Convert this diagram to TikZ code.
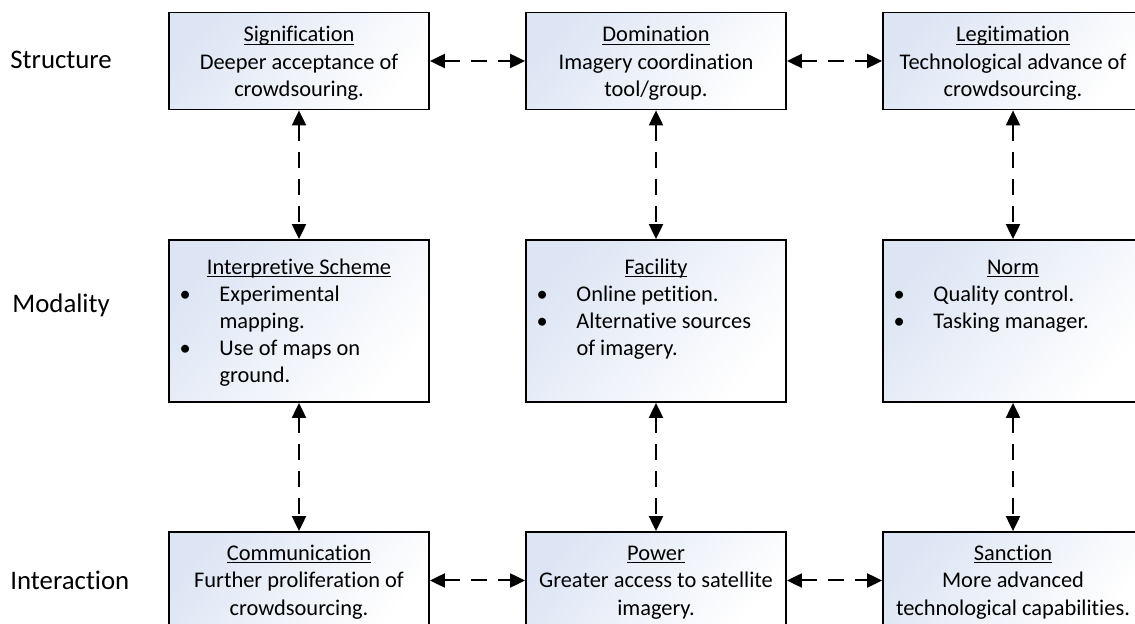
\documentclass[tikz,border=0pt]{standalone}
\usepackage{fontspec}
\setmainfont{Carlito}[Ligatures={NoCommon}]
\usetikzlibrary{arrows.meta,calc}
\definecolor{boxtop}{HTML}{DDE5F4}
\newcommand\uln[1]{\leavevmode\setbox0\hbox{#1}\rlap{\rule[-1.6pt]{\wd0}{0.55pt}}\box0}
\tikzset{
  box/.style={draw=black, line width=0.9pt, rectangle, minimum width=130pt, inner sep=0pt,
    top color=boxtop, bottom color=white, shading angle=50},
  shortbox/.style={box, minimum height=48.5pt},
  tallbox/.style={box, minimum height=81pt},
  btxt/.style={align=center, anchor=base, inner sep=0pt, font=\fontsize{11.2}{13.7}\selectfont},
  ltxt/.style={anchor=base west, inner sep=0pt, font=\fontsize{11.2}{13.6}\selectfont},
  rowlabel/.style={anchor=base west, inner sep=0pt, font=\fontsize{13.4}{16}\selectfont},
  link/.style={line width=1pt, dash pattern=on 8pt off 5.5pt,
    {Triangle[length=7.5pt,width=7pt]}-{Triangle[length=7.5pt,width=7pt]}},
}
\begin{document}
\begin{tikzpicture}[x=0.5pt,y=-0.5pt]
\useasboundingbox (0,0) rectangle (1135,624);
\clip (0,0) rectangle (1135,624);

% row labels
\node[rowlabel] (lstruct) at (10,69) {Structure};
\node[rowlabel] (lmodal) at (12,313) {Modality};
\node[rowlabel] (linter) at (10,589) {Interaction};

% boxes
\node[shortbox] (s1) at (299,61) {};
\node[shortbox] (s2) at (656,61) {};
\node[shortbox] (s3) at (1013,61) {};
\node[tallbox] (m1) at (299,321) {};
\node[tallbox] (m2) at (656,321) {};
\node[tallbox] (m3) at (1013,321) {};
\node[shortbox] (i1) at (299,580.5) {};
\node[shortbox] (i2) at (656,580.5) {};
\node[shortbox] (i3) at (1013,580.5) {};

% structure texts (anchor = baseline of last line)
\node[btxt] (ts1) at ($(s1.north)+(0,85)$) {\uln{Signification}\\Deeper acceptance of\\crowdsouring.};
\node[btxt] (ts2) at ($(s2.north)+(0,85)$) {\uln{Domination}\\Imagery coordination\\tool/group.};
\node[btxt] (ts3) at ($(s3.north)+(0,85)$) {\uln{Legitimation}\\Technological advance of\\crowdsourcing.};

% modality texts
\node[btxt] (tm1) at ($(m1.north)+(0,35)$) {\uln{Interpretive Scheme}};
\node[ltxt] (lm1) at ($(m1.north west)+(11,62)$) {\begin{tabular}[t]{@{}p{20pt}@{}l@{}}
\textbullet & Experimental\\ & mapping.\\ \textbullet & Use of maps on\\ & ground.\end{tabular}};
\node[btxt] (tm2) at ($(m2.north)+(0,35)$) {\uln{Facility}};
\node[ltxt] (lm2) at ($(m2.north west)+(11,62)$) {\begin{tabular}[t]{@{}p{20pt}@{}l@{}}
\textbullet & Online petition.\\ \textbullet & Alternative sources\\ & of imagery.\end{tabular}};
\node[btxt] (tm3) at ($(m3.north)+(0,35)$) {\uln{Norm}};
\node[ltxt] (lm3) at ($(m3.north west)+(11,62)$) {\begin{tabular}[t]{@{}p{20pt}@{}l@{}}
\textbullet & Quality control.\\ \textbullet & Tasking manager.\end{tabular}};

% interaction texts
\node[btxt] (ti1) at ($(i1.north)+(0,84)$) {\uln{Communication}\\Further proliferation of\\crowdsourcing.};
\node[btxt] (ti2) at ($(i2.north)+(0,84)$) {\uln{Power}\\Greater access to satellite\\imagery.};
\node[btxt] (ti3) at ($(i3.north)+(0,84)$) {\uln{Sanction}\\More advanced\\technological capabilities.};

% connectors
\draw[link] (s1.east) -- (s2.west);
\draw[link] (s2.east) -- (s3.west);
\draw[link] (i1.east) -- (i2.west);
\draw[link] (i2.east) -- (i3.west);
\draw[link] (s1.south) -- (m1.north);
\draw[link] (s2.south) -- (m2.north);
\draw[link] (s3.south) -- (m3.north);
\draw[link] (m1.south) -- (i1.north);
\draw[link] (m2.south) -- (i2.north);
\draw[link] (m3.south) -- (i3.north);
\end{tikzpicture}
\end{document}
